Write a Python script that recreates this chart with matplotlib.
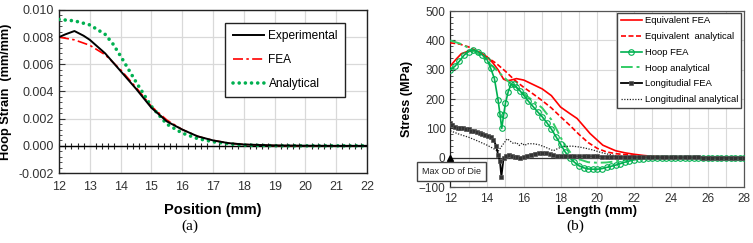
import matplotlib
matplotlib.use("Agg")
import matplotlib.pyplot as plt
from matplotlib.ticker import MultipleLocator, FormatStrFormatter

plt.rcParams["font.family"] = ["Liberation Sans", "DejaVu Sans"]

# ---- panel (a): hoop strain vs position ----
exp_x = [12.0, 12.2, 12.5, 12.8, 13.0, 13.5, 14.0, 14.5, 15.0, 15.5, 16.0, 16.5,
         17.0, 17.5, 18.0, 19.0, 20.0, 21.0, 22.0]
exp_y = [0.0080, 0.0082, 0.00845, 0.0081, 0.0078, 0.0068, 0.0055, 0.0042, 0.0028,
         0.0018, 0.0012, 0.0007, 0.0004, 0.0002, 0.0001, 0.00003, 0.00001, 0.0, 0.0]

fea_x = [12.0, 12.5, 13.0, 13.5, 14.0, 14.5, 15.0, 15.5, 16.0, 16.5, 17.0, 17.5,
         18.0, 19.0, 20.0, 21.0, 22.0]
fea_y = [0.0080, 0.0078, 0.0074, 0.0067, 0.0056, 0.0043, 0.0029, 0.0019, 0.0012,
         0.0007, 0.0004, 0.0002, 0.0001, 0.00002, 0.0, 0.0, 0.0]

ana_x = [12.0, 12.5, 13.0, 13.5, 13.75, 14.0, 14.5, 15.0, 15.5, 16.0, 16.5, 17.0,
         17.5, 18.0, 19.0, 20.0, 21.0, 22.0]
ana_y = [0.0093, 0.0092, 0.0089, 0.0082, 0.0075, 0.0066, 0.0047, 0.0029, 0.0016,
         0.00094, 0.00053, 0.0003, 0.00015, 0.00006, 0.00001, 0.0, 0.0, 0.0]

# ---- panel (b): stress vs length ----
eqf_x = [12.0, 12.3, 12.6, 13.0, 13.3, 13.6, 14.0, 14.3, 14.6, 14.9, 15.1, 15.3,
         15.6, 16.0, 16.5, 17.0, 17.5, 18.0, 18.5, 18.9, 19.3, 19.6, 20.0, 20.3,
         20.7, 21.0, 21.5, 22.0, 22.5, 23.0, 24.0, 25.0, 28.0]
eqf_y = [313, 335, 355, 364, 366, 360, 344, 325, 300, 268, 263, 265,
         270, 265, 250, 235, 212, 173, 151, 134, 105, 83, 60, 43,
         32, 24, 17, 12, 8, 5, 2, 1, 0]

eqa_x = [12.0, 12.5, 13.0, 13.5, 14.0, 14.5, 15.0, 15.5, 16.0, 16.5, 17.0, 17.5,
         18.0, 18.5, 19.0, 19.5, 20.0, 20.5, 21.0, 22.0, 23.0, 24.0, 25.0, 28.0]
eqa_y = [392, 388, 378, 362, 343, 322, 295, 265, 240, 218, 195, 170,
         140, 111, 80, 52, 32, 20, 14, 8, 4, 2, 1, 0]

hpf_x = [12.0, 12.25, 12.5, 12.75, 13.0, 13.25, 13.5, 13.75, 14.0, 14.2, 14.4,
         14.6, 14.7, 14.8, 14.9, 15.0, 15.15, 15.3, 15.45, 15.6, 15.8, 16.0,
         16.25, 16.5, 16.75, 17.0, 17.25, 17.5, 17.75, 18.0, 18.25, 18.5, 18.75,
         19.0, 19.25, 19.5, 19.75, 20.0, 20.25, 20.5, 20.75, 21.0, 21.25, 21.5,
         21.75, 22.0, 22.25, 22.5, 22.75, 23.0, 23.25, 23.5, 23.75, 24.0, 24.25,
         24.5, 24.75, 25.0, 25.25, 25.5, 25.75, 26.0, 26.25, 26.5, 26.75, 27.0,
         27.25, 27.5, 27.75, 28.0]
hpf_y = [300, 312, 330, 350, 362, 368, 362, 350, 335, 305, 270,
         197, 150, 100, 145, 186, 225, 250, 250, 240, 228, 213,
         193, 175, 157, 140, 120, 98, 72, 46, 20, 0, -15,
         -27, -34, -38, -39, -39, -37, -33, -29, -25, -20, -15,
         -11, -7, -5, -3, -2, -1, 0, 0, 0, 0, 0,
         0, 0, 0, 0, 0, 0, 0, 0, 0, 0, 0,
         0, 0, 0, 0]

hpa_x = [12.0, 12.5, 13.0, 13.5, 14.0, 14.5, 15.0, 15.3, 15.6, 16.0, 16.5, 17.0,
         17.5, 17.8, 18.0, 18.3, 18.6, 19.0, 19.5, 20.0, 20.5, 21.0, 21.5, 22.0,
         23.0, 24.0, 28.0]
hpa_y = [400, 390, 375, 355, 330, 300, 270, 252, 240, 218, 195, 170,
         130, 95, 70, 38, 12, -5, -15, -17, -16, -12, -7, -4,
         -1, 0, 0]

lgf_x = [12.0, 12.1, 12.25, 12.4, 12.55, 12.7, 12.85, 13.0, 13.15, 13.3, 13.45,
         13.6, 13.75, 13.9, 14.05, 14.2, 14.35, 14.5, 14.6, 14.7, 14.78, 14.9,
         15.05, 15.2, 15.35, 15.5, 15.65, 15.8, 16.0, 16.2, 16.4, 16.6, 16.8,
         17.0, 17.2, 17.4, 17.6, 17.8, 18.0, 18.25, 18.5, 18.75, 19.0, 19.25,
         19.5, 19.75, 20.0, 20.25, 20.5, 20.75, 21.0, 21.25, 21.5, 21.75, 22.0,
         22.25, 22.5, 22.75, 23.0, 23.25, 23.5, 23.75, 24.0, 24.25, 24.5, 24.75,
         25.0, 25.25, 25.5, 25.75, 26.0, 26.25, 26.5, 26.75, 27.0, 27.25, 27.5,
         27.75, 28.0]
lgf_y = [120, 112, 104, 102, 101, 101, 99, 97, 93, 90, 87,
         84, 80, 77, 74, 70, 62, 40, 10, -10, -65, 0,
         6, 9, 7, 4, 1, 0, 3, 7, 11, 14, 16,
         17, 16, 13, 8, 6, 5, 5, 5, 5, 5, 5,
         5, 5, 5, 4, 4, 4, 4, 3, 3, 3, 3,
         2, 2, 2, 2, 2, 1, 1, 1, 1, 1, 1,
         1, 1, 1, 0, 0, 0, 0, 0, 0, 0, 0,
         0, 0]

lga_x = [12.0, 12.5, 13.0, 13.5, 14.0, 14.3, 14.6, 14.8, 15.1, 15.3, 15.45, 15.6,
         15.75, 15.9, 16.05, 16.2, 16.5, 16.8, 17.1, 17.4, 17.6, 17.9, 18.2, 18.6,
         19.0, 19.4, 19.8, 20.2, 20.6, 21.0, 21.5, 22.0, 23.0, 24.0, 28.0]
lga_y = [92, 80, 70, 57, 43, 33, 22, 40, 65, 55, 48, 52,
         42, 50, 42, 48, 48, 45, 38, 30, 24, 33, 38, 40,
         37, 32, 26, 18, 12, 7, 4, 2, 1, 0, 0]

GREEN = "#00B050"
GREEN2 = "#33CC66"
RED = "#FF0000"
TICKC = "#333333"
GRIDC = "#D9D9D9"

fig = plt.figure(figsize=(7.53, 2.43), dpi=100)

# ================= (a) =================
ax1 = fig.add_axes([0.0784, 0.288, 0.409, 0.671])
ax1.plot(exp_x, exp_y, color="black", lw=1.4, label="Experimental", zorder=4)
ax1.plot(fea_x, fea_y, color=RED, lw=1.2, ls=(0, (6, 2, 1.5, 2)), label="FEA", zorder=3)
ax1.plot(ana_x, ana_y, color=GREEN, lw=2.6, ls=(0, (0.01, 1.7)), dash_capstyle="round",
         label="Analytical", zorder=3)
ax1.axhline(0, color="black", lw=1.0, zorder=2)

ax1.set_xlim(12, 22)
ax1.set_ylim(-0.002, 0.010)
ax1.xaxis.set_major_locator(MultipleLocator(1))
ax1.yaxis.set_major_locator(MultipleLocator(0.002))
ax1.yaxis.set_minor_locator(MultipleLocator(0.0004))
ax1.yaxis.set_major_formatter(FormatStrFormatter("%.3f"))
ax1.grid(True, color=GRIDC, lw=0.9)
ax1.set_axisbelow(True)
ax1.tick_params(axis="x", length=0, labelsize=9, colors=TICKC, pad=6)
ax1.tick_params(axis="y", which="both", direction="in", labelsize=9, colors=TICKC)
ax1.tick_params(axis="y", which="major", length=4)
ax1.tick_params(axis="y", which="minor", length=2.5)
for s in ax1.spines.values():
    s.set_color("#222222")
    s.set_linewidth(1.0)

# small ticks along the zero line
zero_ax = ax1.secondary_xaxis(1.0 / 6.0)
zero_ax.xaxis.set_major_locator(MultipleLocator(0.2))
zero_ax.tick_params(direction="inout", length=4, width=0.8, labelbottom=False,
                    labeltop=False, color="#222222")
zero_ax.spines["bottom"].set_visible(False)
zero_ax.spines["top"].set_visible(False)

ax1.set_xlabel("Position (mm)", fontsize=10.5, fontweight="bold", labelpad=7)
ax1.set_ylabel("Hoop Strain  (mm/mm)", fontsize=9.2, fontweight="bold", labelpad=5)

leg1 = ax1.legend(loc="upper right", bbox_to_anchor=(0.929, 0.92), fontsize=8.6,
                  frameon=True, fancybox=False, edgecolor="#222222", framealpha=1,
                  labelspacing=1.0, handlelength=2.6, handletextpad=0.4,
                  borderpad=0.6, borderaxespad=0)
leg1.get_frame().set_linewidth(1.0)

# ================= (b) =================
ax2 = fig.add_axes([0.598, 0.230, 0.3905, 0.724])
ax2.plot(eqf_x, eqf_y, color=RED, lw=1.2, label="Equivalent FEA", zorder=4)
ax2.plot(eqa_x, eqa_y, color=RED, lw=1.2, ls=(0, (3, 1.5)), label="Equivalent  analytical",
         zorder=4)
ax2.plot(hpf_x, hpf_y, color=GREEN, lw=1.2, marker="o", ms=4, mfc="none", mew=0.8,
         label="Hoop FEA", zorder=5)
ax2.plot(hpa_x, hpa_y, color=GREEN2, lw=1.4, ls=(0, (6, 2, 1.5, 2)), label="Hoop analytical",
         zorder=4)
ax2.plot(lgf_x, lgf_y, color="black", lw=1.3, marker="s", ms=2.6, mfc="#333333",
         mec="#555555", mew=0.5, label="Longitudial FEA", zorder=6)
ax2.plot(lga_x, lga_y, color="#222222", lw=0.9, ls=(0, (1, 1.2)),
         label="Longitudinal analytical", zorder=4)
ax2.axhline(0, color="#333333", lw=0.9, zorder=2)
ax2.plot([12], [0], marker="^", color="black", ms=4, clip_on=False, zorder=7)

ax2.set_xlim(12, 28)
ax2.set_ylim(-100, 500)
ax2.xaxis.set_major_locator(MultipleLocator(2))
ax2.xaxis.set_minor_locator(MultipleLocator(1))
ax2.yaxis.set_major_locator(MultipleLocator(100))
ax2.yaxis.set_minor_locator(MultipleLocator(20))
ax2.grid(True, which="both", axis="x", color=GRIDC, lw=0.8)
ax2.grid(True, which="major", axis="y", color=GRIDC, lw=0.8)
ax2.set_axisbelow(True)
ax2.tick_params(axis="x", which="both", length=0, labelsize=8.5, colors=TICKC, pad=4)
ax2.tick_params(axis="y", which="both", direction="in", labelsize=8.5, colors=TICKC)
ax2.tick_params(axis="y", which="major", length=3.5)
ax2.tick_params(axis="y", which="minor", length=2)
for s in ax2.spines.values():
    s.set_color("#555555")
    s.set_linewidth(0.9)
ax2.spines["left"].set_color("#222222")

ax2.set_xlabel("Length (mm)", fontsize=9.5, fontweight="bold", labelpad=0)
ax2.set_ylabel("Stress (MPa)", fontsize=9, fontweight="bold", labelpad=4)

ax2.text(10.45, -30, "Max OD of Die", fontsize=6.5, color="#222222", ha="left", va="top",
         bbox=dict(boxstyle="square,pad=0.55", fc="white", ec="#444444", lw=1.0),
         transform=ax2.transData, zorder=8, clip_on=False)

leg2 = ax2.legend(loc="upper right", bbox_to_anchor=(0.99, 0.99), fontsize=6.8,
                  frameon=True, fancybox=False, edgecolor="#444444", framealpha=1,
                  labelspacing=0.72, handlelength=2.3, handletextpad=0.25,
                  borderpad=0.35, borderaxespad=0)
leg2.get_frame().set_linewidth(1.0)

fig.text(0.252, 0.07, "(a)", fontsize=11, family="Liberation Serif", ha="center", va="center")
fig.text(0.764, 0.07, "(b)", fontsize=11, family="Liberation Serif", ha="center", va="center")

fig.savefig("out.png", dpi=100)
